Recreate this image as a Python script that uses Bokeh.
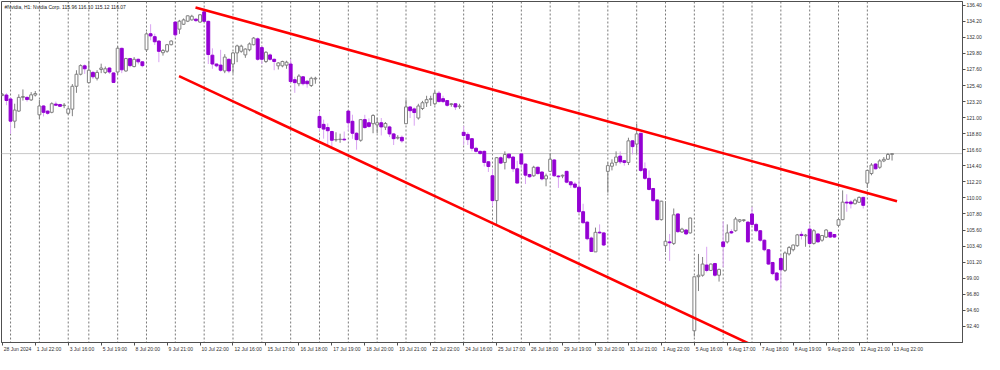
from bokeh.plotting import figure
from bokeh.models import (Range1d, FixedTicker, Span, Label, LinearAxis,
                          ColumnDataSource, NumeralTickFormatter,
                          CustomJSTickFormatter)
from bokeh.embed import file_html
from bokeh.resources import INLINE

# ---------------- data (hourly bars, index = bar number) ----------------
opens = [124.05,124.10,123.56,120.52,121.90,123.78,123.78,123.43,124.10,121.39,
         122.60,121.90,121.73,122.86,122.80,122.65,121.60,122.17,125.30,126.95,
         128.10,125.80,127.20,126.40,127.60,127.20,127.80,127.13,127.26,130.50,
         127.40,129.10,128.00,129.00,128.65,130.30,132.50,132.10,131.50,129.90,
         130.10,131.00,134.10,133.13,133.80,134.22,134.40,134.50,134.10,135.50,
         134.20,129.56,128.35,128.20,127.40,129.00,128.35,129.87,130.10,129.60,
         130.30,131.00,131.80,130.60,128.70,129.60,129.00,128.10,128.10,128.20,
         128.35,126.20,125.65,126.60,126.00,125.40,126.30,121.17,120.08,119.64,
         119.10,117.95,118.00,118.05,121.90,120.50,118.86,117.90,120.73,120.30,
         120.17,120.00,120.30,119.70,119.73,118.77,118.20,118.30,120.17,122.47,
         122.20,120.95,122.25,123.04,123.50,122.90,124.35,123.60,123.34,122.80,
         122.90,122.50,118.99,118.70,118.12,116.80,116.38,116.38,114.95,113.03,
         109.63,115.50,114.86,116.00,115.60,113.99,116.03,114.64,113.20,113.03,
         114.20,113.55,112.60,113.64,115.20,113.00,113.00,113.64,112.20,111.90,
         111.46,108.11,106.68,104.50,102.60,105.30,105.20,113.64,114.34,114.86,
         115.73,115.10,114.86,117.82,117.38,118.86,113.99,112.68,111.29,109.72,
         107.02,103.45,103.97,103.76,107.80,105.33,105.60,105.20,91.79,99.20,
         99.40,100.80,100.06,101.00,99.40,103.97,103.97,105.37,105.50,106.80,
         106.90,106.68,107.80,106.37,105.50,104.20,102.89,101.15,99.71,101.70,
         100.06,102.32,102.90,103.45,105.00,104.80,105.72,103.76,105.06,104.20,
         104.63,105.28,104.98,106.24,107.02,109.42,109.45,109.20,109.40,110.07,
         112.03,113.34,114.64,114.20,115.07,115.30,115.96]
highs = [124.35,124.35,123.78,122.91,124.20,124.87,123.90,124.50,124.65,123.43,
         122.70,122.00,123.10,123.20,122.90,123.00,122.40,125.60,127.50,128.30,
         128.30,128.80,127.40,127.50,128.40,128.00,127.90,127.20,130.80,130.60,
         129.20,129.20,129.30,129.10,128.70,132.70,133.80,132.50,131.60,130.40,
         131.10,131.60,134.20,134.40,134.60,135.00,135.10,134.60,135.20,136.00,
         134.30,130.50,128.40,130.30,129.70,129.10,130.00,131.00,131.00,130.50,
         131.30,132.05,132.00,130.80,130.10,129.80,129.10,128.60,128.80,128.80,
         129.00,126.60,126.95,126.70,126.10,126.60,126.60,121.82,120.73,120.20,
         119.20,119.00,118.80,119.10,122.00,121.40,119.00,120.80,121.39,120.90,
         121.47,121.00,120.95,120.40,119.90,118.90,118.60,118.55,123.47,122.60,
         122.40,122.90,123.30,124.00,124.00,124.65,124.65,124.00,123.40,123.00,
         122.95,122.90,119.86,119.00,118.20,117.00,116.50,116.50,115.00,114.00,
         115.60,115.70,116.38,116.10,115.70,115.08,116.16,114.70,113.30,114.40,
         114.30,113.60,113.33,116.16,115.30,113.10,113.20,113.70,112.25,112.20,
         112.46,109.20,106.80,104.70,105.93,106.37,105.30,114.86,115.29,116.38,
         116.38,115.20,118.25,117.90,120.17,118.90,114.86,113.77,111.30,109.80,
         109.60,109.55,105.06,108.55,107.85,105.90,105.70,107.30,99.20,102.32,
         101.90,103.30,101.00,101.10,100.30,106.80,106.37,105.70,107.37,107.10,
         107.10,106.80,108.76,106.60,105.60,104.30,103.00,101.20,99.84,102.24,
         102.67,103.40,103.60,105.06,105.40,105.06,106.37,105.70,105.10,104.90,
         105.72,105.35,105.05,107.10,111.03,110.50,109.70,109.90,110.20,110.15,
         113.77,114.77,114.77,115.30,115.60,116.16,116.10]
lows = [123.95,122.70,118.77,119.56,121.80,123.34,123.20,123.30,123.90,120.86,
        121.17,121.40,121.60,122.60,122.50,122.30,121.40,121.20,124.40,126.80,
        127.00,125.70,126.30,126.10,127.10,127.00,127.00,125.80,126.90,127.10,
        127.30,127.90,127.90,128.30,127.90,130.00,131.60,130.96,128.60,129.50,
        129.90,130.90,132.00,132.48,133.70,134.10,134.30,134.10,134.00,134.10,
        128.35,127.70,127.90,127.30,127.10,127.10,127.04,128.60,129.90,129.20,
        130.10,130.90,128.80,128.35,128.50,128.80,127.50,127.60,127.90,127.70,
        125.80,124.40,125.30,125.40,125.10,125.20,125.65,119.20,118.12,117.03,
        116.80,117.70,117.55,117.90,119.20,118.10,116.60,117.70,119.50,119.60,
        118.86,118.86,118.56,119.30,118.34,117.25,118.00,117.55,120.10,120.95,
        119.90,120.73,122.04,122.47,122.60,122.70,123.10,123.00,122.50,122.50,
        122.04,122.20,117.25,117.25,116.38,116.20,115.90,114.30,113.55,108.85,
        106.37,114.64,113.90,115.30,113.55,112.00,113.99,111.90,112.76,112.90,
        113.20,112.40,111.59,113.60,112.90,111.37,112.70,112.00,111.37,111.30,
        107.90,106.50,104.20,102.60,102.58,105.10,103.40,110.72,113.77,114.42,
        114.64,114.42,114.50,115.95,115.95,113.55,112.46,111.03,109.42,106.93,
        106.90,102.58,101.37,103.54,105.20,105.20,104.90,105.10,91.00,97.23,
        99.20,99.80,99.97,99.20,98.53,100.50,103.76,105.06,105.37,106.60,
        106.70,103.90,106.20,105.30,103.97,102.67,100.84,99.40,98.53,97.45,
        99.84,102.10,102.67,103.30,104.30,103.30,103.54,103.60,103.90,104.00,
        104.50,104.50,104.50,106.07,106.94,108.10,108.55,109.10,109.30,108.55,
        111.37,113.10,113.90,113.99,114.90,115.20,115.12]
closes = [124.20,123.35,120.52,122.04,123.78,123.90,123.48,124.13,124.30,122.60,
          121.73,121.60,122.91,122.70,122.55,122.72,122.20,125.30,126.95,128.13,
          127.70,127.50,126.60,127.20,127.80,127.70,127.26,125.83,130.52,127.56,
          129.10,128.13,129.00,128.65,128.13,132.48,132.20,131.40,130.09,130.20,
          131.00,131.50,132.35,134.22,134.40,134.96,134.90,134.30,135.10,134.20,
          129.65,128.35,128.10,127.50,129.30,127.40,129.87,130.83,130.80,130.40,
          131.10,131.90,129.00,129.00,129.96,129.00,128.70,128.50,128.70,128.60,
          125.95,125.80,126.70,125.65,125.65,126.40,126.40,119.64,119.43,119.21,
          117.90,118.00,118.05,117.95,120.30,118.86,117.99,120.73,119.64,119.80,
          121.30,120.30,119.73,120.20,118.77,118.12,118.30,117.82,122.47,121.95,
          121.70,122.60,123.04,123.47,123.60,124.35,123.20,123.20,122.69,122.90,
          122.47,122.60,118.56,117.99,116.80,116.38,116.08,114.86,114.30,109.63,
          115.51,114.77,115.95,115.50,113.99,112.03,114.64,113.12,112.90,114.20,
          113.33,112.60,113.03,115.30,113.03,112.90,113.10,112.16,111.80,111.46,
          108.11,106.59,104.40,102.67,105.28,105.20,103.54,114.42,114.77,115.60,
          114.94,114.86,117.82,117.03,118.77,113.77,112.68,111.16,109.63,107.02,
          109.55,104.06,103.85,107.68,105.37,105.72,105.06,107.24,99.19,99.40,
          100.93,100.06,100.93,99.40,100.20,103.32,105.20,105.20,107.10,107.00,
          107.00,103.97,106.37,105.50,104.20,102.89,100.93,99.62,98.75,100.15,
          102.45,103.19,103.54,104.93,104.85,104.90,103.76,105.50,103.97,104.85,
          105.60,104.63,104.63,107.02,109.42,109.30,109.20,109.70,110.07,108.98,
          113.77,114.50,113.99,115.07,115.29,115.95,116.07]

# bars per trading day (28 Jun ... 13 Aug 2024)
day_bars = [2, 7, 7, 5, 7, 7, 7, 7, 7, 7, 7, 7, 7, 7, 7, 7, 7, 7, 7, 7,
            7, 7, 7, 7, 7, 7, 7, 7, 7, 7, 7, 7]

time_labels = ["28 Jun 2024", "1 Jul 22:00", "3 Jul 16:00", "5 Jul 19:00",
               "8 Jul 20:00", "9 Jul 21:00", "10 Jul 22:00", "12 Jul 16:00",
               "15 Jul 17:00", "16 Jul 18:00", "17 Jul 19:00", "18 Jul 20:00",
               "19 Jul 21:00", "22 Jul 22:00", "24 Jul 16:00", "25 Jul 17:00",
               "26 Jul 18:00", "29 Jul 19:00", "30 Jul 20:00", "31 Jul 21:00",
               "1 Aug 22:00", "5 Aug 16:00", "6 Aug 17:00", "7 Aug 18:00",
               "8 Aug 19:00", "9 Aug 20:00", "12 Aug 21:00", "13 Aug 22:00"]
label_step = 8

price_ticks = [92.40, 94.60, 96.80, 99.00, 101.20, 103.40, 105.60, 107.80,
               110.00, 112.20, 114.40, 116.60, 118.80, 121.00, 123.20, 125.40,
               127.60, 129.80, 132.00, 134.20, 136.40]

upper_x = [46.9, 217.2]
upper_y = [136.10, 109.54]
lower_x = [42.9, 183.0]
lower_y = [126.70, 89.57]

last_price = 116.07
header = "#Nvidia, H1: Nvidia Corp. 115.96 116.10 115.12 116.07"

# ---------------- styling ----------------
BULL_LINE = "#808080"
BULL_FILL = "#ffffff"
BEAR_FILL = "#9400d3"
BEAR_WICK = "#d9a3f2"
AX = "#505050"
TXT = "#303030"
FONT = "Liberation Sans"
FS_PX = 5
FS = f"{FS_PX}px"

X0, X1 = -0.2, 233.1
Y0, Y1 = 90.18, 136.92
FRAME_W_EST = 962.0   # approx. frame width in px, used to offset time labels

n = len(opens)
idx = list(range(n))
bull = [c >= o for o, c in zip(opens, closes)]
src = ColumnDataSource(dict(
    x=idx,
    top=[max(o, c) for o, c in zip(opens, closes)],
    bottom=[min(o, c) for o, c in zip(opens, closes)],
    lo=[min(l, o, c) for l, o, c in zip(lows, opens, closes)],
    hi=[max(h, o, c) for h, o, c in zip(highs, opens, closes)],
    fill=[BULL_FILL if b else BEAR_FILL for b in bull],
    line=[BULL_LINE if b else BEAR_FILL for b in bull],
    wick=[BULL_LINE if b else BEAR_WICK for b in bull],
))

p = figure(width=984, height=354, output_backend="svg", toolbar_location=None,
           x_range=Range1d(X0, X1), y_range=Range1d(Y0, Y1),
           y_axis_location="right",
           min_border_left=1, min_border_top=1, min_border_right=19,
           min_border_bottom=11)
p.background_fill_color = "white"
p.border_fill_color = "white"
p.outline_line_color = AX
p.xgrid.visible = False
p.ygrid.visible = False

# day separators
seps = []
acc = 0
for b in day_bars[:-1]:
    acc += b
    seps.append(acc)
for s in seps:
    p.add_layout(Span(location=s, dimension="height", line_color="#7a7a7a",
                      line_dash="2 2", line_width=1, level="underlay"))
# last price line
p.add_layout(Span(location=last_price, dimension="width", line_color="#c8c8c8",
                  line_width=1, level="underlay"))

# candles
p.segment(x0="x", y0="lo", x1="x", y1="hi", source=src, line_color="wick",
          line_width=1)
p.vbar(x="x", width=0.7, top="top", bottom="bottom", source=src,
       fill_color="fill", line_color="line", line_width=1)

# trend lines
p.line(upper_x, upper_y, line_color="#ff0000", line_width=2.6)
p.line(lower_x, lower_y, line_color="#ff0000", line_width=2.6)

# right price axis
ya = p.yaxis[0]
ya.ticker = FixedTicker(ticks=price_ticks)
ya.formatter = NumeralTickFormatter(format="0.00")
ya.axis_label = None
ya.major_tick_out = 3
ya.major_tick_in = 0
ya.minor_tick_out = 0
ya.minor_tick_in = 0
ya.major_label_standoff = 1
ya.major_label_text_font = FONT
ya.major_label_text_font_size = FS
ya.major_label_text_color = TXT
ya.axis_line_color = AX
ya.major_tick_line_color = AX

# bottom time axis: tick marks at the labelled bars
label_pos = [i * label_step for i in range(len(time_labels))]
xa = p.xaxis[0]
xa.axis_label = None
xa.ticker = FixedTicker(ticks=label_pos)
xa.major_label_overrides = {k: "" for k in label_pos}
xa.major_tick_out = 3
xa.major_tick_in = 0
xa.minor_tick_out = 0
xa.minor_tick_in = 0
xa.major_label_text_font_size = "1px"
xa.major_label_standoff = 0
xa.axis_line_color = AX
xa.major_tick_line_color = AX

# second bottom axis carrying the labels, which start just right of each tick
CW = {" ": 278, ":": 278, "J": 500, "l": 222, "A": 667, "u": 556, "n": 556,
      "g": 556}
def text_w(t):
    return sum(CW.get(ch, 556) for ch in t) * FS_PX / 1000.0

px_per_bar = FRAME_W_EST / (X1 - X0)
lab_ticks = [round(pos + (text_w(t) / 2 + 1.5) / px_per_bar, 4)
             for pos, t in zip(label_pos, time_labels)]
fmt = CustomJSTickFormatter(args=dict(pos=lab_ticks, labs=time_labels), code="""
    let best = 0, d = 1e9;
    for (let i = 0; i < pos.length; i++) {
        const e = Math.abs(pos[i] - tick);
        if (e < d) { d = e; best = i; }
    }
    return labs[best];
""")
xb = LinearAxis(ticker=FixedTicker(ticks=lab_ticks), formatter=fmt,
                axis_label=None, axis_line_color=None,
                major_tick_line_color=None, minor_tick_line_color=None,
                major_tick_out=0, major_tick_in=0,
                minor_tick_out=0, minor_tick_in=0,
                major_label_standoff=0, major_label_text_font=FONT,
                major_label_text_font_size=FS, major_label_text_color=TXT)
p.add_layout(xb, "below")

# header
p.add_layout(Label(x=X0, y=Y1, x_offset=3, y_offset=-2, text=header,
                   text_align="left", text_baseline="top", text_font=FONT,
                   text_font_size=FS, text_color="#202020"))

# current price tag on the price scale
p.add_layout(Label(x=X1, y=last_price, x_offset=1, text=f"{last_price:.2f}",
                   text_align="left", text_baseline="middle", text_font=FONT,
                   text_font_size=FS, text_color="white",
                   background_fill_color="#b8b8b8", level="overlay"))

open("out.html", "w").write(file_html(p, INLINE))
